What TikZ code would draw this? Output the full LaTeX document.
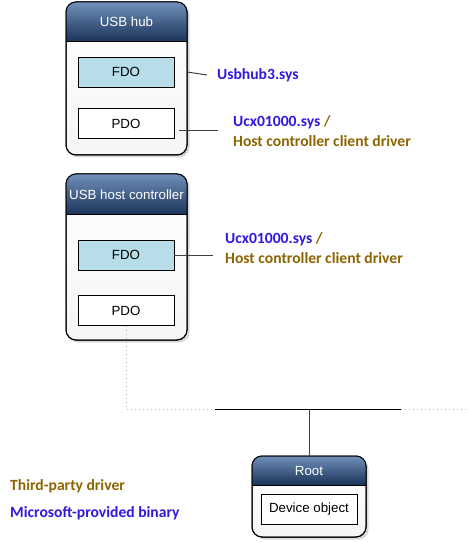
\documentclass[tikz,border=0pt]{standalone}
\usepackage{fontspec}
\setmainfont{Liberation Sans}
\newfontfamily\labelfont{Carlito}
\usetikzlibrary{positioning, shadows}

\definecolor{hdtop}{RGB}{112,144,186}
\definecolor{hdbot}{RGB}{26,50,88}
\definecolor{fdoblue}{RGB}{182,221,232}
\definecolor{msblue}{RGB}{48,24,224}
\definecolor{tpbrown}{RGB}{140,100,0}
\definecolor{wire}{RGB}{64,64,64}

\begin{document}
\begin{tikzpicture}[x=1bp, y=-1bp,
        devbox/.style={rectangle, draw, rounded corners=10bp, line width=1bp, outer sep=0pt,
            top color=white, bottom color=gray!8,
            drop shadow={shadow xshift=2.5bp, shadow yshift=-2.5bp, opacity=0.3}},
        objbox/.style={rectangle, draw, line width=0.8bp, minimum width=96bp, minimum height=30bp,
            font=\fontsize{13.3bp}{15bp}\selectfont, fill=white},
        fdo/.style={objbox, fill=fdoblue},
        boxtitle/.style={text=white, font=\fontsize{13.3bp}{15bp}\selectfont},
        lbl/.style={anchor=west, inner sep=0pt, align=left, text=tpbrown,
            font=\labelfont\bfseries\fontsize{15.6bp}{20bp}\selectfont},
        conn/.style={draw=wire, line width=1bp},
        busdots/.style={draw=gray!55, line width=1bp, dash pattern=on 1bp off 3bp}]

        \useasboundingbox (0,0) rectangle (468,542);

        % Boxes
        \node[devbox, minimum width=121bp, minimum height=153bp] (hub) at (126.5,78.5) {};
        \node[devbox, minimum width=121bp, minimum height=166bp] (hc) at (126.5,257) {};
        \node[devbox, minimum width=114bp, minimum height=81bp] (root) at (309,496.5) {};

        % Headers
        \foreach \b/\h/\t in {hub/40/USB hub, hc/41/USB host controller, root/29/Root} {
            \begin{scope}
                \clip[rounded corners=10bp] (\b.north west) rectangle (\b.south east);
                \shade[top color=hdtop, bottom color=hdbot] (\b.north west) rectangle ([yshift=-\h bp]\b.north east);
            \end{scope}
            \draw[line width=1bp, rounded corners=10bp] (\b.north west) rectangle (\b.south east);
            \draw[line width=1bp] ([yshift=-\h bp]\b.north west) -- ([yshift=-\h bp]\b.north east);
            \node[boxtitle] at ([yshift={-0.5*\h*1bp}]\b.north) {\t};
        }

        % Device objects
        \node[fdo] (hubfdo) at (126,72) {FDO};
        \node[objbox, below=21bp of hubfdo] (hubpdo) {PDO};
        \node[fdo] (hcfdo) at (126,255) {FDO};
        \node[objbox, below=25bp of hcfdo] (hcpdo) {PDO};
        \node[objbox] (rootdo) at (309,509) {Device object};

        % Labels
        \node[lbl, text=msblue] (hubsys) at (217,75) {Usbhub3.sys};
        \node[lbl] (hubucx) at (233,131) {\textcolor{msblue}{Ucx01000.sys} /\\Host controller client driver};
        \node[lbl] (hcucx) at (225,248) {\textcolor{msblue}{Ucx01000.sys} /\\Host controller client driver};

        % Legend
        \node[lbl] (third) at (10,486) {Third-party driver};
        \node[lbl, text=msblue] (msbin) at (10,513) {Microsoft-provided binary};

        % Connectors
        \draw[conn] (hubfdo.east -| hub.east) -- ([xshift=-10bp]hubsys.west);
        \draw[conn] ([xshift=5bp]hubpdo.east |- hubucx.west) -- ([xshift=-15bp]hubucx.west);
        \draw[conn] (hcfdo.east) -- ([xshift=-12bp]hcucx.west |- hcfdo.east);

        % Bus
        \coordinate (busleft) at (215,409);
        \coordinate (busright) at (401,409);
        \coordinate (busend) at (468,409);
        \draw[line width=1bp] (busleft) -- (busright);
        \draw[busdots] (hcpdo.south) |- (busleft);
        \draw[busdots] (busright) -- (busend);
        \draw[conn] (root.north) -- (root.north |- busleft);

    \end{tikzpicture}
\end{document}
